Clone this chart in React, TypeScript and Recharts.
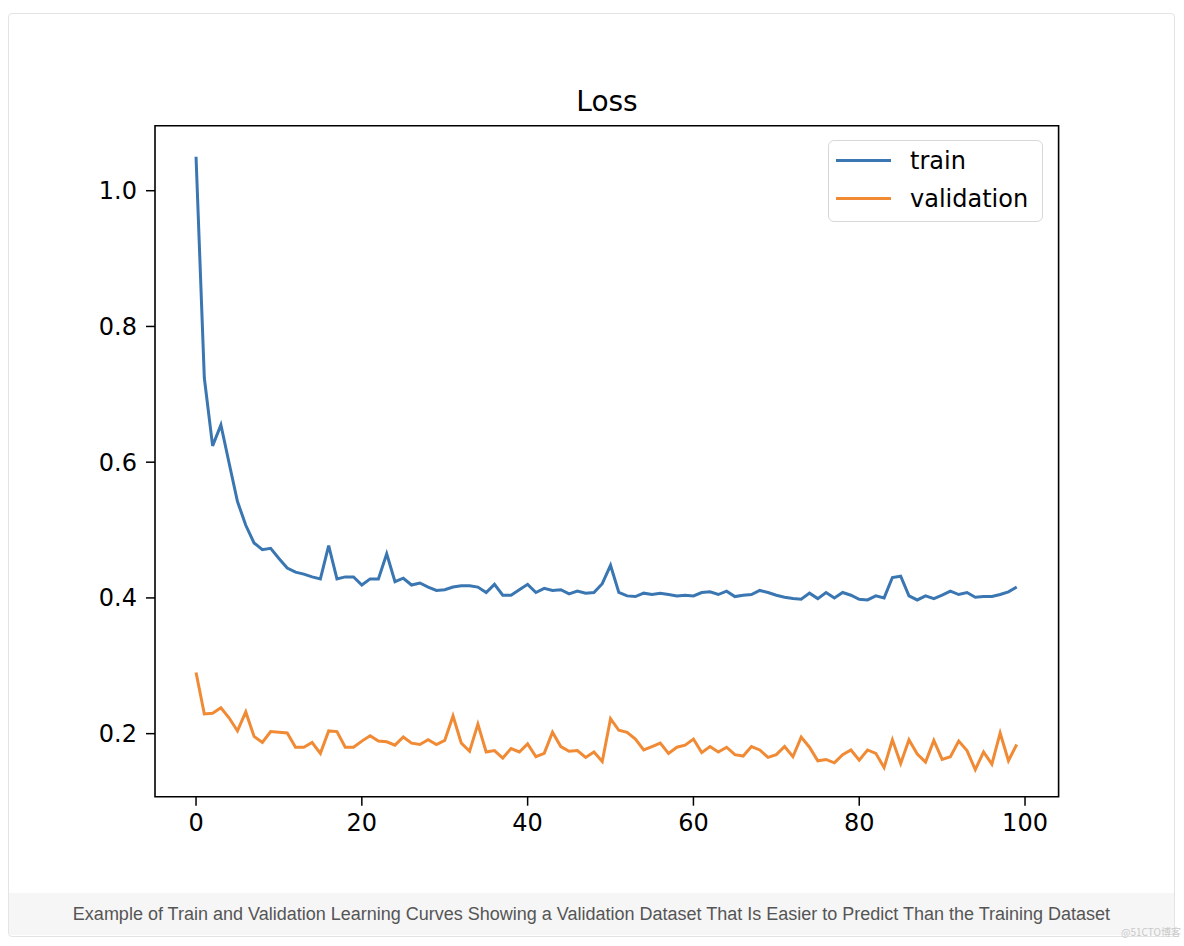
import React from "react";
import {
  LineChart,
  Line,
  XAxis,
  YAxis,
  Legend,
  ReferenceArea,
} from "recharts";

// loss per epoch
const trainLoss = [
  1.05, 0.724, 0.624, 0.655, 0.598, 0.542, 0.507, 0.481, 0.471, 0.473,
  0.458, 0.444, 0.438, 0.435, 0.431, 0.428, 0.477, 0.428, 0.431, 0.431,
  0.419, 0.428, 0.428, 0.465, 0.424, 0.429, 0.419, 0.422, 0.416, 0.411,
  0.412, 0.416, 0.418, 0.418, 0.416, 0.408, 0.42, 0.404, 0.404, 0.412,
  0.42, 0.408, 0.414, 0.411, 0.412, 0.406, 0.41, 0.407, 0.408, 0.421,
  0.448, 0.408, 0.403, 0.402, 0.407, 0.405, 0.407, 0.405, 0.403, 0.404,
  0.403, 0.408, 0.409, 0.405, 0.41, 0.402, 0.404, 0.405, 0.411, 0.408,
  0.404, 0.401, 0.399, 0.398, 0.407, 0.399, 0.408, 0.4, 0.408, 0.404,
  0.398, 0.397, 0.403, 0.4, 0.43, 0.432, 0.403, 0.397, 0.403, 0.399,
  0.404, 0.41, 0.405, 0.408, 0.401, 0.402, 0.402, 0.405, 0.409, 0.416,
];

const validationLoss = [
  0.29, 0.229, 0.23, 0.238, 0.223, 0.204, 0.232, 0.196, 0.187, 0.203,
  0.202, 0.201, 0.18, 0.18, 0.187, 0.171, 0.204, 0.203, 0.18, 0.18,
  0.189, 0.197, 0.189, 0.188, 0.183, 0.195, 0.186, 0.184, 0.191, 0.184,
  0.19, 0.226, 0.186, 0.174, 0.214, 0.173, 0.175, 0.164, 0.178, 0.173,
  0.185, 0.166, 0.171, 0.202, 0.181, 0.174, 0.175, 0.165, 0.173, 0.159,
  0.222, 0.205, 0.202, 0.192, 0.176, 0.181, 0.186, 0.171, 0.18, 0.183,
  0.192, 0.172, 0.181, 0.173, 0.18, 0.169, 0.167, 0.181, 0.176, 0.165,
  0.169, 0.181, 0.166, 0.195, 0.18, 0.16, 0.162, 0.157, 0.169, 0.176,
  0.161, 0.176, 0.171, 0.15, 0.191, 0.156, 0.191, 0.17, 0.158, 0.19,
  0.162, 0.166, 0.189, 0.175, 0.147, 0.173, 0.155, 0.201, 0.16, 0.184,
];

const xTicks = [0, 20, 40, 60, 80, 100];
const yTicks = [0.2, 0.4, 0.6, 0.8, 1.0];

const X_MIN = -4.95;
const X_MAX = 104.05;
const Y_MIN = 0.1071;
const Y_MAX = 1.0958;

const BLUE = "#3a76b1";
const ORANGE = "#f08a34";
const FONT = "DejaVu Sans";

const chartData = trainLoss.map((t, i) => ({
  epoch: i,
  train: t,
  validation: validationLoss[i],
}));

const legendItems = [
  { name: "train", color: BLUE },
  { name: "validation", color: ORANGE },
];

const LossLegend = () => (
  <div
    style={{
      position: "relative",
      width: 215,
      height: 82,
      boxSizing: "border-box",
      border: "1px solid #d8d8d8",
      borderRadius: 6,
      background: "rgba(255,255,255,0.8)",
      fontFamily: FONT,
      fontSize: 24,
      color: "#000",
    }}
  >
    {legendItems.map((item, i) => (
      <div key={item.name}>
        <span
          style={{
            position: "absolute",
            left: 7,
            top: 18 + i * 38,
            width: 55,
            height: 3,
            background: item.color,
          }}
        />
        <span
          style={{
            position: "absolute",
            left: 81,
            top: 5 + i * 38,
            lineHeight: "30px",
          }}
        >
          {item.name}
        </span>
      </div>
    ))}
  </div>
);

export default function App() {
  return (
    <div
      style={{
        position: "absolute",
        left: 0,
        top: 0,
        width: 1184,
        height: 946,
        background: "#fff",
        overflow: "hidden",
      }}
    >
      {/* card frame */}
      <div
        style={{
          position: "absolute",
          left: 8,
          top: 13,
          width: 1167,
          height: 924,
          boxSizing: "border-box",
          border: "1px solid #e4e4e4",
          borderRadius: 4,
        }}
      />

      <div
        style={{
          position: "absolute",
          left: 155,
          top: 88,
          width: 904,
          textAlign: "center",
          fontFamily: FONT,
          fontSize: 28,
          lineHeight: "28px",
          color: "#000",
        }}
      >
        Loss
      </div>

      <div style={{ position: "absolute", left: 0, top: 0 }}>
        <LineChart
          width={1184}
          height={900}
          data={chartData}
          margin={{ top: 125.7, right: 125.4, left: 75, bottom: 43.3 }}
        >
          <XAxis
            dataKey="epoch"
            type="number"
            domain={[X_MIN, X_MAX]}
            ticks={xTicks}
            height={60}
            axisLine={false}
            tickLine={{ stroke: "#000", strokeWidth: 1.5 }}
            tickSize={9}
            tickMargin={8}
            tick={{ fill: "#000", fontSize: 24, fontFamily: FONT }}
            allowDataOverflow
          />
          <YAxis
            type="number"
            domain={[Y_MIN, Y_MAX]}
            ticks={yTicks}
            width={80}
            axisLine={false}
            tickLine={{ stroke: "#000", strokeWidth: 1.5 }}
            tickSize={9}
            tickMargin={9}
            tickFormatter={(v: number) => v.toFixed(1)}
            tick={{ fill: "#000", fontSize: 24, fontFamily: FONT }}
            allowDataOverflow
          />
          <ReferenceArea
            x1={X_MIN}
            x2={X_MAX}
            y1={Y_MIN}
            y2={Y_MAX}
            fill="none"
            fillOpacity={0}
            stroke="#000"
            strokeWidth={1.6}
            ifOverflow="visible"
          />
          <Line
            type="linear"
            dataKey="train"
            stroke={BLUE}
            strokeWidth={3}
            dot={false}
            isAnimationActive={false}
          />
          <Line
            type="linear"
            dataKey="validation"
            stroke={ORANGE}
            strokeWidth={3}
            dot={false}
            isAnimationActive={false}
          />
          <Legend
            layout="vertical"
            align="center"
            verticalAlign="middle"
            content={() => <LossLegend />}
            wrapperStyle={{ left: 828, top: 140, width: 215, height: 82 }}
          />
        </LineChart>
      </div>

      {/* caption bar */}
      <div
        style={{
          position: "absolute",
          left: 9,
          top: 893,
          width: 1165,
          height: 42,
          background: "#f6f6f6",
          textAlign: "center",
          fontFamily: "Liberation Sans",
          fontSize: 18,
          lineHeight: "42px",
          color: "#555",
          whiteSpace: "nowrap",
        }}
      >
        Example of Train and Validation Learning Curves Showing a Validation
        Dataset That Is Easier to Predict Than the Training Dataset
      </div>

      <div
        style={{
          position: "absolute",
          left: 1121,
          top: 924,
          fontFamily: "Noto Sans CJK SC",
          fontSize: 10,
          color: "#c9c9c9",
          whiteSpace: "nowrap",
        }}
      >
        @51CTO博客
      </div>
    </div>
  );
}
